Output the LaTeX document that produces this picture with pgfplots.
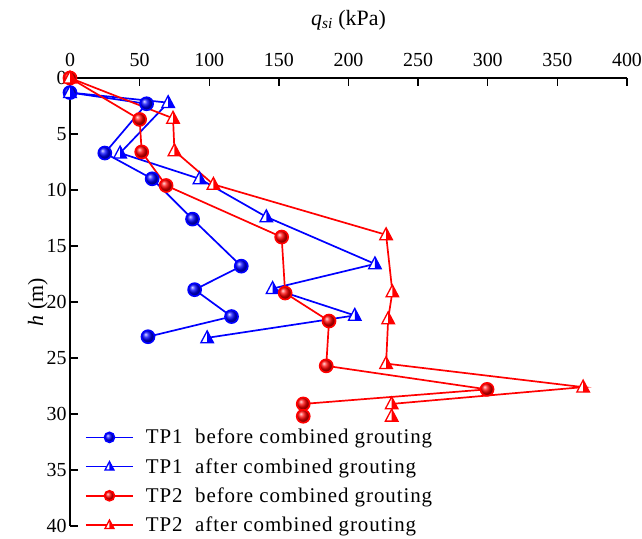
\documentclass[border=0pt]{standalone}
\usepackage{pgfplots}
\pgfplotsset{compat=1.18}
\usepackage{fontspec}
\setmainfont{Liberation Serif}

\pgfdeclareplotmark{halftri}{%
  \begin{pgfscope}
  \pgfsetfillcolor{white}%
  \pgfpathmoveto{\pgfqpoint{0pt}{\pgfplotmarksize}}%
  \pgfpathlineto{\pgfqpoint{0.9\pgfplotmarksize}{-0.7\pgfplotmarksize}}%
  \pgfpathlineto{\pgfqpoint{-0.9\pgfplotmarksize}{-0.7\pgfplotmarksize}}%
  \pgfpathclose
  \pgfusepathqfill
  \end{pgfscope}
  \pgfpathmoveto{\pgfqpoint{0pt}{\pgfplotmarksize}}%
  \pgfpathlineto{\pgfqpoint{0.9\pgfplotmarksize}{-0.7\pgfplotmarksize}}%
  \pgfpathlineto{\pgfqpoint{0pt}{-0.7\pgfplotmarksize}}%
  \pgfpathclose
  \pgfusepathqfill
  \pgfpathmoveto{\pgfqpoint{0pt}{\pgfplotmarksize}}%
  \pgfpathlineto{\pgfqpoint{0.9\pgfplotmarksize}{-0.7\pgfplotmarksize}}%
  \pgfpathlineto{\pgfqpoint{-0.9\pgfplotmarksize}{-0.7\pgfplotmarksize}}%
  \pgfpathclose
  \pgfusepathqstroke
}

\begin{document}
\begin{tikzpicture}
\begin{axis}[
  at={(0,0)}, anchor=south west,
  scale only axis, width=557bp, height=448bp,
  xmin=0, xmax=400, ymin=0, ymax=40,
  y dir=reverse,
  axis x line*=top, axis y line*=left,
  axis line style={line width=1.6bp},
  tick style={line width=1.3bp, black},
  tick align=inside,
  major tick length=8bp,
  xtick={0,50,...,400}, ytick={0,5,...,40},
  /pgf/number format/assume math mode=true,
  ticklabel style={font=\fontsize{20}{24}\selectfont},
  xticklabel style={yshift=8bp},
  xlabel={\textit{q}\textsubscript{\textit{si}} (kPa)},
  ylabel={\textit{h} (m)},
  label style={font=\fontsize{22}{26}\selectfont},
  xlabel style={at={(axis description cs:0.5,1)}, anchor=south, yshift=44bp},
  ylabel style={yshift=-8bp},
  clip=false,
  legend style={at={(0.025,-0.023)}, anchor=south west, draw=none, fill=none,
    font=\fontsize{21}{25}\selectfont\addfontfeatures{LetterSpace=4.5}, row sep=9bp, inner sep=1bp},
  legend cell align=left,
  legend image code/.code={\draw[mark repeat=2,mark phase=2,#1,mark size=5bp] plot coordinates {(0bp,0bp) (23.5bp,0bp) (47bp,0bp)};},
]
\addplot[blue, line width=1.7bp, mark=ball, mark size=6.5bp, mark options={ball color=blue}] coordinates {
(0,1.3) (55,2.3) (25,6.7) (59,9.0) (88,12.6) (123,16.8) (89.5,18.9) (116,21.3) (56,23.1)};
\addlegendentry{\hspace*{10bp}TP1\hspace{0.6em}before combined grouting}
\addplot[blue, line width=1.7bp, mark=halftri, mark size=7bp, mark options={fill=blue, line width=1.3bp, solid}] coordinates {
(0,1.3) (70.5,2.2) (36,6.7) (93,9.0) (141,12.4) (219,16.6) (145.5,18.8) (204.5,21.2) (98.5,23.2)};
\addlegendentry{\hspace*{10bp}TP1\hspace{0.6em}after combined grouting}
\addplot[red, line width=1.7bp, mark=ball, mark size=6.5bp, mark options={ball color=red}] coordinates {
(0,0) (50,3.7) (51.5,6.6) (69,9.6) (152,14.2) (154.5,19.2) (186,21.7) (184,25.7) (299.5,27.8) (167.5,29.1) (167.5,30.2)};
\addlegendentry{\hspace*{10bp}TP2\hspace{0.6em}before combined grouting}
\addplot[red, line width=1.7bp, mark=halftri, mark size=7bp, mark options={fill=red, line width=1.3bp, solid}] coordinates {
(0,0) (74,3.6) (75,6.5) (103,9.5) (227,14.0) (231.5,19.1) (228.5,21.5) (227,25.5) (368.5,27.6) (231,29.1) (231,30.2)};
\addlegendentry{\hspace*{10bp}TP2\hspace{0.6em}after combined grouting}
\end{axis}
\pgfresetboundingbox
\path[use as bounding box] (-70bp,-13bp) rectangle (572bp,526bp);
\end{tikzpicture}
\end{document}
